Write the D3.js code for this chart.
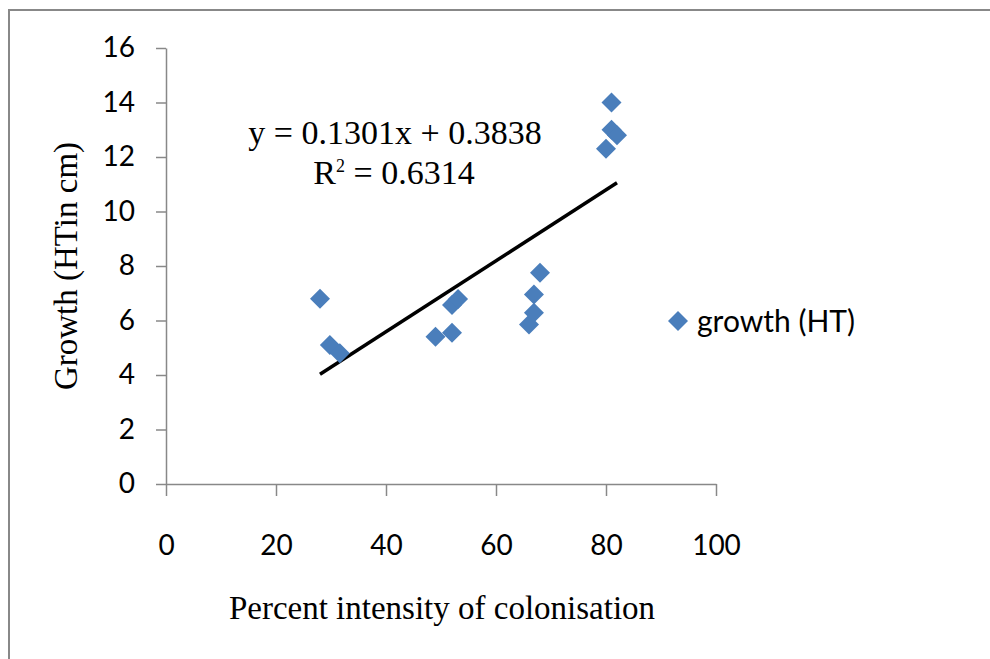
<!DOCTYPE html>
<html>
<head>
<meta charset="utf-8">
<style>
  body { margin: 0; background: #fff; }
  .tick text { font-family: Lato, "Open Sans", sans-serif; font-size: 28px; fill: #000; }
</style>
</head>
<body>
<svg width="990" height="659"></svg>
<script src="https://d3js.org/d3.v7.min.js"></script>
<script>
// colonisation (%) and growth (HT in cm)
var colonisation = [28, 29.8, 31.6, 49, 52, 52, 53.1, 66, 66.9, 66.9, 68, 80, 81, 82, 81];
var growth = [6.8, 5.1, 4.8, 5.4, 5.55, 6.57, 6.79, 5.85, 6.28, 6.95, 7.75, 12.3, 13.0, 12.8, 14.0];
var xTicks = [0, 20, 40, 60, 80, 100];
var yTicks = [0, 2, 4, 6, 8, 10, 12, 14, 16];
var slope = 0.1301, intercept = 0.3838;

var svg = d3.select("svg");
var blue = "#4a7ebb";

// chart frame
svg.append("rect")
    .attr("x", 9).attr("y", 10)
    .attr("width", 1000).attr("height", 700)
    .attr("fill", "none")
    .attr("stroke", "#888")
    .attr("stroke-width", 2);

var x = d3.scaleLinear().domain([0, 100]).range([166, 716]);
var y = d3.scaleLinear().domain([0, 16]).range([484, 48]);

var xAxis = svg.append("g")
    .attr("transform", "translate(0," + y(0) + ")")
    .call(d3.axisBottom(x).tickValues(xTicks).tickSize(12).tickPadding(50).tickSizeOuter(0));
var yAxis = svg.append("g")
    .attr("transform", "translate(" + x(0) + ",0)")
    .call(d3.axisLeft(y).tickValues(yTicks).tickSize(10).tickPadding(21).tickSizeOuter(0));

[xAxis, yAxis].forEach(function(a) {
    a.selectAll("path, line").attr("stroke", "#888").attr("stroke-width", 1.5);
});
xAxis.selectAll(".tick text").attr("dy", "0.32em");

// trendline
var xmin = d3.min(colonisation), xmax = d3.max(colonisation);
svg.append("line")
    .attr("x1", x(xmin)).attr("y1", y(slope * xmin + intercept))
    .attr("x2", x(xmax)).attr("y2", y(slope * xmax + intercept))
    .attr("stroke", "#000")
    .attr("stroke-width", 3.5);

// diamonds
var diamond = "M0,-10L10,0L0,10L-10,0Z";
svg.append("g").selectAll("path")
    .data(d3.range(colonisation.length))
    .enter().append("path")
    .attr("d", diamond)
    .attr("fill", blue)
    .attr("transform", function(i) {
        return "translate(" + x(colonisation[i]) + "," + y(growth[i]) + ")";
    });

// equation
var serif = "'Liberation Serif', 'Times New Roman', serif";
svg.append("text")
    .attr("x", 395).attr("y", 144)
    .attr("text-anchor", "middle")
    .attr("font-family", serif)
    .attr("font-size", 34)
    .text("y = 0.1301x + 0.3838");
var r2 = svg.append("text")
    .attr("x", 394).attr("y", 184)
    .attr("text-anchor", "middle")
    .attr("font-family", serif)
    .attr("font-size", 34);
r2.append("tspan").text("R");
r2.append("tspan").attr("font-size", 18).attr("dy", -12).text("2");
r2.append("tspan").attr("dy", 12).text(" = 0.6314");

// axis titles
svg.append("text")
    .attr("x", 442).attr("y", 619)
    .attr("text-anchor", "middle")
    .attr("font-family", serif)
    .attr("font-size", 33)
    .text("Percent intensity of colonisation");
svg.append("text")
    .attr("transform", "translate(77," + 266 + ") rotate(-90)")
    .attr("text-anchor", "middle")
    .attr("font-family", serif)
    .attr("font-size", 33)
    .text("Growth (HTin cm)");

// legend
var legend = svg.append("g").attr("transform", "translate(678,321)");
legend.append("path").attr("d", diamond).attr("fill", blue);
legend.append("text")
    .attr("x", 19).attr("y", 0)
    .attr("dy", "0.35em")
    .attr("font-family", "Lato, 'Open Sans', sans-serif")
    .attr("font-size", 30)
    .text("growth (HT)");
</script>
</body>
</html>
